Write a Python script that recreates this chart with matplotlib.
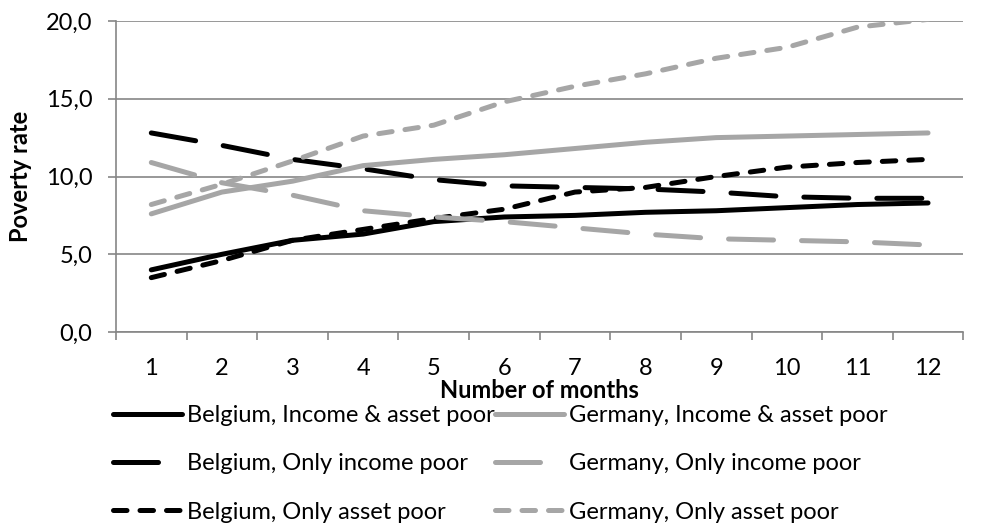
import matplotlib
matplotlib.use("Agg")
import matplotlib.pyplot as plt
from matplotlib.ticker import FuncFormatter, FixedLocator

plt.rcParams['font.family'] = ['Lato', 'DejaVu Sans']

months = list(range(1, 13))

be_income_asset = [4.0, 5.0, 5.9, 6.3, 7.1, 7.4, 7.5, 7.7, 7.8, 8.0, 8.2, 8.3]
be_only_income = [12.8, 12.0, 11.1, 10.5, 9.8, 9.4, 9.3, 9.2, 9.0, 8.7, 8.6, 8.6]
be_only_asset = [3.5, 4.6, 5.9, 6.6, 7.3, 7.9, 9.0, 9.3, 10.0, 10.6, 10.9, 11.1]
de_income_asset = [7.6, 9.0, 9.7, 10.7, 11.1, 11.4, 11.8, 12.2, 12.5, 12.6, 12.7, 12.8]
de_only_income = [10.9, 9.6, 8.8, 7.8, 7.4, 7.1, 6.7, 6.3, 6.0, 5.9, 5.8, 5.6]
de_only_asset = [8.2, 9.5, 11.0, 12.6, 13.3, 14.8, 15.8, 16.6, 17.6, 18.3, 19.6, 20.1]

black = '#000000'
grey = '#A6A6A6'
axis_grey = '#868686'
lw = 3.6
long_dash = (9.0, 5.6)
short_dash = (2.7, 2.6)
fs = 17

fig = plt.figure(figsize=(9.83, 5.23), dpi=100)
ax = fig.add_axes([0.118, 0.365, 0.862, 0.595])

series = [
    (be_income_asset, black, None, 'Belgium, Income & asset poor'),
    (be_only_income, black, long_dash, 'Belgium, Only income poor'),
    (be_only_asset, black, short_dash, 'Belgium, Only asset poor'),
    (de_income_asset, grey, None, 'Germany, Income & asset poor'),
    (de_only_income, grey, long_dash, 'Germany, Only income poor'),
    (de_only_asset, grey, short_dash, 'Germany, Only asset poor'),
]

for vals, col, dash, label in series:
    line, = ax.plot(months, vals, color=col, lw=lw, label=label,
                    solid_capstyle='round', dash_capstyle='round', zorder=3)
    if dash is not None:
        line.set_dashes(dash)

ax.set_xlim(0.5, 12.5)
ax.set_ylim(0, 20)
ax.set_yticks([0, 5, 10, 15, 20])
ax.yaxis.set_major_formatter(FuncFormatter(lambda v, p: f'{v:.1f}'.replace('.', ',')))
ax.set_xticks(months)
ax.xaxis.set_minor_locator(FixedLocator([m + 0.5 for m in range(0, 13)]))
ax.tick_params(axis='x', which='major', length=0, labelsize=fs, pad=19)
ax.tick_params(axis='x', which='minor', length=6, color=axis_grey, width=1.2)
ax.tick_params(axis='y', length=6, color=axis_grey, width=1.2, labelsize=fs, pad=11)

ax.grid(axis='y', color=axis_grey, lw=1.2, zorder=0)
for s in ['top', 'right']:
    ax.spines[s].set_visible(False)
for s in ['left', 'bottom']:
    ax.spines[s].set_color(axis_grey)
    ax.spines[s].set_linewidth(1.2)

ax.set_ylabel('Poverty rate', fontsize=fs, fontweight='bold', labelpad=10)
ax.set_xlabel('Number of months', fontsize=fs, fontweight='bold', labelpad=0)

ax.legend(loc='upper left', bbox_to_anchor=(-0.004, -0.235), ncol=2, frameon=False,
          fontsize=fs, handlelength=2.95, handletextpad=0.2, labelspacing=1.15,
          columnspacing=0.0, borderaxespad=0, borderpad=0)

fig.savefig('out.png', dpi=100)
